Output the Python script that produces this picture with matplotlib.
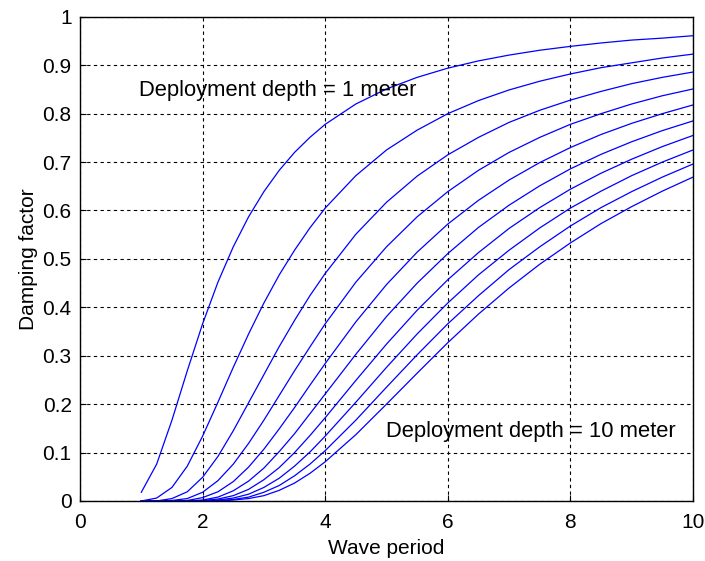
import matplotlib
matplotlib.use("Agg")
import matplotlib.pyplot as plt

plt.rcParams['font.family'] = ['Liberation Sans', 'DejaVu Sans']

# wave period grid (s)
period = [1.0, 1.25, 1.5, 1.75, 2.0, 2.25, 2.5, 2.75, 3.0, 3.25, 3.5, 3.75, 4.0,
          4.5, 5.0, 5.5, 6.0, 6.5, 7.0, 7.5, 8.0, 8.5, 9.0, 9.5, 10.0]

# damping factor, one list per deployment depth (1 .. 10 m)
depth_1 = [0.018, 0.076, 0.167, 0.269, 0.366, 0.452, 0.525, 0.587, 0.639, 0.683, 0.720, 0.751, 0.778,
           0.820, 0.851, 0.875, 0.894, 0.909, 0.921, 0.931, 0.939, 0.946, 0.952, 0.956, 0.961]
depth_2 = [0.000, 0.006, 0.028, 0.072, 0.134, 0.204, 0.276, 0.345, 0.409, 0.467, 0.518, 0.564, 0.605,
           0.672, 0.725, 0.766, 0.800, 0.827, 0.849, 0.867, 0.882, 0.895, 0.905, 0.915, 0.923]
depth_3 = [0.000, 0.000, 0.005, 0.019, 0.049, 0.092, 0.145, 0.203, 0.261, 0.319, 0.373, 0.424, 0.470,
           0.551, 0.617, 0.671, 0.715, 0.751, 0.782, 0.807, 0.828, 0.846, 0.862, 0.875, 0.886]
depth_4 = [0.000, 0.000, 0.001, 0.005, 0.018, 0.042, 0.076, 0.119, 0.167, 0.218, 0.269, 0.318, 0.366,
           0.452, 0.525, 0.587, 0.639, 0.683, 0.720, 0.751, 0.778, 0.800, 0.820, 0.837, 0.851]
depth_5 = [0.000, 0.000, 0.000, 0.001, 0.007, 0.019, 0.040, 0.070, 0.107, 0.149, 0.193, 0.239, 0.284,
           0.370, 0.447, 0.514, 0.572, 0.621, 0.663, 0.699, 0.730, 0.757, 0.780, 0.800, 0.818]
depth_6 = [0.000, 0.000, 0.000, 0.000, 0.002, 0.008, 0.021, 0.041, 0.068, 0.102, 0.139, 0.180, 0.221,
           0.303, 0.381, 0.450, 0.511, 0.565, 0.611, 0.651, 0.686, 0.716, 0.742, 0.765, 0.785]
depth_7 = [0.000, 0.000, 0.000, 0.000, 0.001, 0.004, 0.011, 0.024, 0.044, 0.069, 0.100, 0.135, 0.172,
           0.249, 0.324, 0.394, 0.457, 0.513, 0.563, 0.606, 0.644, 0.677, 0.706, 0.732, 0.755]
depth_8 = [0.000, 0.000, 0.000, 0.000, 0.000, 0.002, 0.006, 0.014, 0.028, 0.047, 0.072, 0.101, 0.134,
           0.204, 0.276, 0.345, 0.409, 0.467, 0.518, 0.564, 0.605, 0.640, 0.672, 0.700, 0.725]
depth_9 = [0.000, 0.000, 0.000, 0.000, 0.000, 0.001, 0.003, 0.008, 0.018, 0.032, 0.052, 0.076, 0.104,
           0.167, 0.235, 0.302, 0.366, 0.424, 0.478, 0.525, 0.568, 0.606, 0.639, 0.669, 0.696]
depth_10 = [0.000, 0.000, 0.000, 0.000, 0.000, 0.000, 0.002, 0.005, 0.011, 0.022, 0.037, 0.057, 0.081,
            0.137, 0.200, 0.264, 0.327, 0.386, 0.440, 0.489, 0.533, 0.573, 0.608, 0.640, 0.669]

curves = [depth_1, depth_2, depth_3, depth_4, depth_5,
          depth_6, depth_7, depth_8, depth_9, depth_10]

fig = plt.figure(figsize=(7.05, 5.61), dpi=100)
ax = fig.add_axes([0.1135, 0.107, 0.8695, 0.863])

for c in curves:
    ax.plot(period, c, color=(0, 0, 1), linewidth=0.9)

ax.set_xlim(0, 10)
ax.set_ylim(0, 1)
ax.set_xticks(range(0, 11, 2))
ax.set_yticks([i / 10 for i in range(11)])
ax.set_yticklabels(['0', '0.1', '0.2', '0.3', '0.4', '0.5', '0.6', '0.7', '0.8', '0.9', '1'])

ax.grid(True, color='black', linestyle=(0, (3, 3)), linewidth=0.8)
ax.tick_params(direction='in', length=4, labelsize=15, colors='black', pad=6)
ax.tick_params(axis='x', pad=9)
for s in ax.spines.values():
    s.set_linewidth(1.0)

ax.set_xlabel('Wave period', fontsize=15, labelpad=5)
ax.set_ylabel('Damping factor', fontsize=15, labelpad=3)

ax.text(0.96, 0.847, 'Deployment depth = 1 meter', fontsize=15.8, va='center', ha='left')
ax.text(4.99, 0.143, 'Deployment depth = 10 meter', fontsize=15.8, va='center', ha='left')

fig.savefig('out.png', dpi=100)
